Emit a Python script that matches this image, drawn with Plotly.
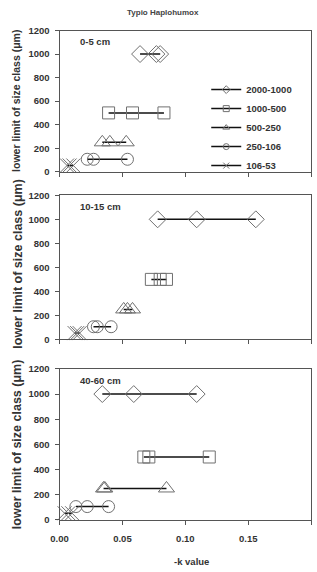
import plotly.graph_objects as go
from plotly.subplots import make_subplots

series_names = ["2000-1000", "1000-500", "500-250", "250-106", "106-53"]
series_y = [1000, 500, 250, 106, 53]
symbols = ["diamond-open", "square-open", "triangle-up-open", "circle-open", "x-thin-open"]
marker_sizes = [13, 12, 14, 12, 14]

depth_labels = ["0-5 cm", "10-15 cm", "40-60 cm"]

# -k values per depth, per size class
k_0_5 = [
    [0.064, 0.077, 0.080],
    [0.039, 0.058, 0.083],
    [0.034, 0.040, 0.053],
    [0.022, 0.027, 0.054],
    [0.006, 0.008, 0.011],
]
k_10_15 = [
    [0.078, 0.109, 0.156],
    [0.073, 0.080, 0.085],
    [0.051, 0.054, 0.058],
    [0.027, 0.030, 0.041],
    [0.012, 0.014, 0.016],
]
k_40_60 = [
    [0.034, 0.059, 0.109],
    [0.067, 0.071, 0.119],
    [0.035, 0.036, 0.085],
    [0.013, 0.022, 0.039],
    [0.004, 0.007, 0.010],
]
panels = [k_0_5, k_10_15, k_40_60]

x_tickvals = [0, 0.05, 0.10, 0.15, 0.2]
x_ticktext = ["0.00", "0.05", "0.10", "0.15", "0.2"]
y_tickvals = [0, 200, 400, 600, 800, 1000, 1200]

W, H = 317, 572
font_family = "Liberation Sans, Arial, sans-serif"
txt_col = "#333333"
marker_col = "#707070"

fig = make_subplots(rows=3, cols=1)

for p, data in enumerate(panels):
    for i, name in enumerate(series_names):
        fig.add_trace(go.Scatter(
            x=data[i], y=[series_y[i]] * len(data[i]),
            mode="lines+markers",
            line=dict(color="#111111", width=1.5),
            marker=dict(symbol=symbols[i], size=marker_sizes[i], color=marker_col,
                        line=dict(width=1, color=marker_col)),
            showlegend=False, cliponaxis=False, name=name,
        ), row=p + 1, col=1)

# legend entries (small markers)
for i, name in enumerate(series_names):
    fig.add_trace(go.Scatter(
        x=[None], y=[None], mode="lines+markers", name=name,
        line=dict(color="#111111", width=1.5),
        marker=dict(symbol=symbols[i], size=6, color=marker_col,
                    line=dict(width=1, color=marker_col)),
        showlegend=True,
    ), row=1, col=1)

y_domains = [
    [1 - 169 / H, 1 - 25 / H],
    [1 - 340 / H, 1 - 193 / H],
    [1 - 524 / H, 1 - 370 / H],
]
x_domain = [52 / W, 311 / W]
ytitle_sizes = [10.5, 12.5, 12.5]
ytitle_centers = [97, 263, 447]
ytitle_x = [7, 9, 9]

axis_common = dict(showline=True, linecolor="#555555", linewidth=1, mirror=True,
                   ticks="outside", ticklen=4, tickcolor="#555555", showgrid=False,
                   zeroline=False,
                   tickfont=dict(family=font_family, size=9.5, color=txt_col, weight="bold"))

for p in range(3):
    xa = "xaxis" if p == 0 else f"xaxis{p+1}"
    ya = "yaxis" if p == 0 else f"yaxis{p+1}"
    fig.layout[xa].update(domain=x_domain, range=[0, 0.2], tickvals=x_tickvals,
                          ticktext=x_ticktext, showticklabels=(p == 2),
                          ticklabelstandoff=6, **axis_common)
    fig.layout[ya].update(domain=y_domains[p], range=[0, 1200], tickvals=y_tickvals,
                          ticklabelstandoff=3, **axis_common)
    # panel label
    fig.add_annotation(x=0.015, y=1170, xref="x" if p == 0 else f"x{p+1}",
                       yref="y" if p == 0 else f"y{p+1}",
                       text=f"<b>{depth_labels[p]}</b>", showarrow=False,
                       xanchor="left", yanchor="top",
                       font=dict(family=font_family, size=9.5, color=txt_col))
    # y-axis title
    fig.add_annotation(x=ytitle_x[p] / W, y=1 - ytitle_centers[p] / H,
                       xref="paper", yref="paper",
                       text="<b>lower limit of size class (μm)</b>", textangle=-90,
                       showarrow=False, xanchor="center", yanchor="middle",
                       font=dict(family=font_family, size=ytitle_sizes[p], color=txt_col))

fig.add_annotation(x=158 / W, y=1 - 7 / H, xref="paper", yref="paper",
                   text="<b>Typio Haplohumox</b>", showarrow=False,
                   xanchor="center", yanchor="middle",
                   font=dict(family=font_family, size=8, color="#444444"))
fig.add_annotation(x=188 / W, y=1 - 566 / H, xref="paper", yref="paper",
                   text="<b>-k value</b>", showarrow=False,
                   xanchor="center", yanchor="middle",
                   font=dict(family=font_family, size=9.5, color=txt_col))

fig.update_layout(
    width=W, height=H,
    margin=dict(l=0, r=0, t=0, b=0),
    paper_bgcolor="white", plot_bgcolor="white",
    legend=dict(x=203 / W, y=1 - 124 / H, xanchor="left", yanchor="middle",
                bgcolor="rgba(0,0,0,0)",
                font=dict(family=font_family, size=9.5, color=txt_col, weight="bold"),
                tracegroupgap=0, itemwidth=30),
)

fig.write_html("out.html")
